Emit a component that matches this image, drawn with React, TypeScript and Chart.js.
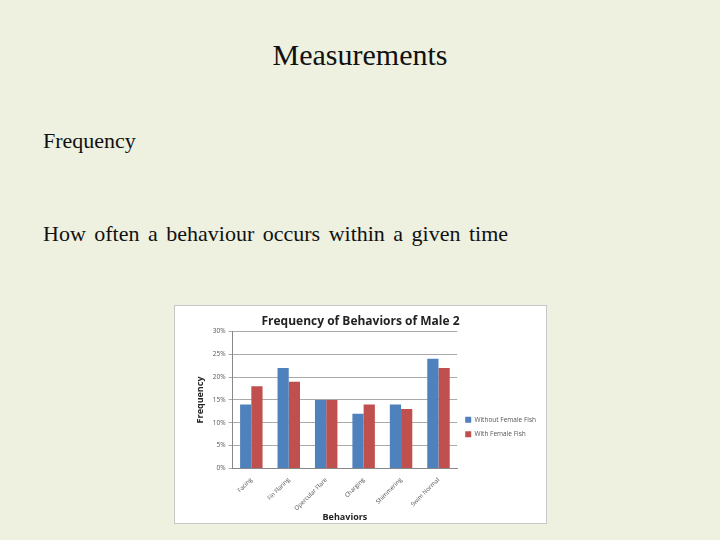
import { Chart, registerables } from 'chart.js';
import { useEffect, useRef } from 'react';

Chart.register(...registerables);

const behaviors = ['Facing', 'Fin Flaring', 'Opercular Flare', 'Charging', 'Shimmering', 'Swim Normal'];
const withoutFemale = [0.14, 0.22, 0.15, 0.12, 0.14, 0.24];
const withFemale = [0.18, 0.19, 0.15, 0.14, 0.13, 0.22];
const seriesNames = ['Without Female Fish', 'With Female Fish'];

function BehaviorChart() {
    const canvasRef = useRef<HTMLCanvasElement>(null);
    const chartRef = useRef<Chart | null>(null);

    useEffect(() => {
        if (!canvasRef.current) return;
        const ctx = canvasRef.current.getContext('2d');
        if (!ctx) return;

        if (chartRef.current) chartRef.current.destroy();

        chartRef.current = new Chart(ctx, {
            type: 'bar',
            data: {
                labels: behaviors,
                datasets: [
                    { label: seriesNames[0], data: withoutFemale, backgroundColor: '#4F81BD' },
                    { label: seriesNames[1], data: withFemale, backgroundColor: '#C0504D' }
                ]
            },
            options: {
                animation: false,
                responsive: true,
                maintainAspectRatio: false,
                layout: { padding: { top: 4, right: 0, bottom: 0, left: 0 } },
                datasets: {
                    bar: { categoryPercentage: 0.6, barPercentage: 1 }
                },
                plugins: {
                    title: {
                        display: true,
                        text: 'Frequency of Behaviors of Male 2',
                        font: { family: 'Open Sans', size: 12, weight: 'bold' },
                        color: '#222',
                        padding: { top: 4, bottom: 3 }
                    },
                    legend: {
                        position: 'right',
                        title: { display: true, text: ' ', font: { size: 6 }, padding: 7 },
                        labels: {
                            boxWidth: 6,
                            boxHeight: 6,
                            font: { family: 'Open Sans', size: 6.5 },
                            color: '#555',
                            padding: 8
                        }
                    },
                    tooltip: { enabled: false }
                },
                scales: {
                    x: {
                        grid: { display: false },
                        border: { color: '#888' },
                        ticks: {
                            maxRotation: 45,
                            minRotation: 45,
                            font: { family: 'Open Sans', size: 6 },
                            color: '#555',
                            padding: 0
                        },
                        title: {
                            display: true,
                            text: 'Behaviors',
                            font: { family: 'Open Sans', size: 9, weight: 'bold' },
                            color: '#222',
                            padding: { top: 0, bottom: 0 }
                        }
                    },
                    y: {
                        min: 0,
                        max: 0.3,
                        grid: { color: '#aaa', tickLength: 4 },
                        border: { color: '#888' },
                        ticks: {
                            stepSize: 0.05,
                            font: { family: 'Open Sans', size: 6.5 },
                            color: '#555',
                            callback: (v) => Math.round(Number(v) * 100) + '%'
                        },
                        title: {
                            display: true,
                            text: 'Frequency',
                            font: { family: 'Open Sans', size: 9, weight: 'bold' },
                            color: '#222',
                            padding: { top: 20, bottom: 4 }
                        }
                    }
                }
            }
        });

        return () => {
            if (chartRef.current) {
                chartRef.current.destroy();
                chartRef.current = null;
            }
        };
    }, []);

    return <canvas ref={canvasRef} />;
}

export default function App() {
    const serif = '"Liberation Serif", "DejaVu Serif", serif';
    return (
        <div style={{ position: 'fixed', left: 0, top: 0, width: 720, height: 540, background: '#EEF0E0', fontFamily: serif, color: '#111' }}>
            <div style={{ position: 'absolute', left: 0, width: 720, top: 38, textAlign: 'center', fontSize: 30 }}>Measurements</div>
            <div style={{ position: 'absolute', left: 43, top: 128, fontSize: 22 }}>Frequency</div>
            <div style={{ position: 'absolute', left: 43, top: 221, fontSize: 22, wordSpacing: 3 }}>How often a behaviour occurs within a given time</div>
            <div style={{ position: 'absolute', left: 174, top: 305, width: 371, height: 217, background: '#fff', border: '1px solid #c8c8c8' }}>
                <BehaviorChart />
            </div>
        </div>
    );
}
